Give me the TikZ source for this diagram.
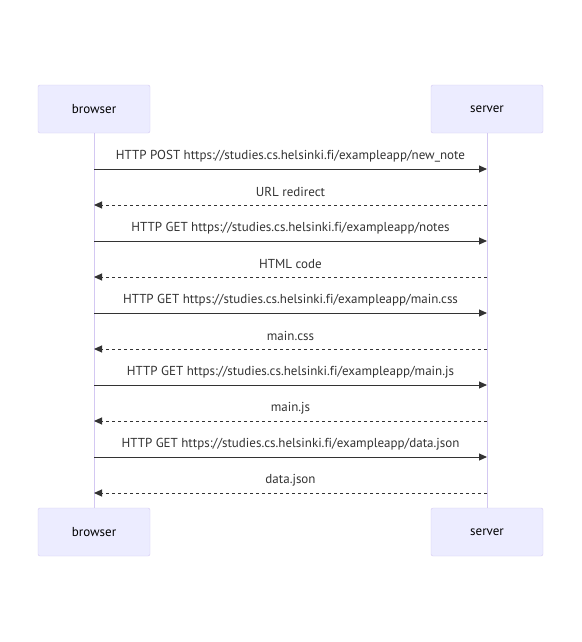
\documentclass[tikz,border=0pt]{standalone}
\usepackage{fontspec}
\setmainfont[Ligatures=NoCommon]{PT Sans}
\usepackage{xcolor}
\usetikzlibrary{arrows.meta,calc}

\definecolor{actorfill}{HTML}{ECECFF}
\definecolor{actorline}{HTML}{D3C8F2}
\definecolor{msgcol}{HTML}{333333}

\begin{document}
\begin{tikzpicture}[
  x=1pt, y=-1pt,
  >={Triangle[length=8pt,width=7pt]},
  line cap=butt,
  actor/.style={draw=actorline, fill=actorfill, rounded corners=2pt,
    minimum width=112pt, minimum height=48pt, font=\fontsize{13}{15}\selectfont},
  lifeline/.style={draw=actorline, line width=0.8pt},
  call/.style={->, draw=msgcol, line width=1pt},
  reply/.style={->, draw=msgcol, line width=1pt, dash pattern=on 3pt off 3pt},
  msg/.style={midway, yshift=13pt, text=msgcol, font=\fontsize{13}{15}\selectfont}
]
  \useasboundingbox (0,0) rectangle (581,642);

  \node[actor] (browser) at (94,109) {browser};
  \node[actor] (server)  at (487,109) {server};
  \node[actor] (browserEnd) at (94,532) {browser};
  \node[actor] (serverEnd)  at (487,532) {server};

  % lifelines
  \draw[lifeline] (browser.south) -- (browserEnd.north);
  \draw[lifeline] (server.south) -- (serverEnd.north);

  \foreach \i in {1,...,10}{
    \coordinate (b\i) at (94, 133+36*\i);
    \coordinate (s\i) at (487, 133+36*\i);
  }

  % requests and responses
  \draw[call]  (b1) -- (s1) node[msg] {HTTP POST https://studies.cs.helsinki.fi/exampleapp/new\_note};
  \draw[reply] (s2) -- (b2) node[msg] {URL redirect};
  \draw[call]  (b3) -- (s3) node[msg] {HTTP GET https://studies.cs.helsinki.fi/exampleapp/notes};
  \draw[reply] (s4) -- (b4) node[msg] {HTML code};
  \draw[call]  (b5) -- (s5) node[msg] {HTTP GET https://studies.cs.helsinki.fi/exampleapp/main.css};
  \draw[reply] (s6) -- (b6) node[msg] {main.css};
  \draw[call]  (b7) -- (s7) node[msg] {HTTP GET https://studies.cs.helsinki.fi/exampleapp/main.js};
  \draw[reply] (s8) -- (b8) node[msg] {main.js};
  \draw[call]  (b9) -- (s9) node[msg] {HTTP GET https://studies.cs.helsinki.fi/exampleapp/data.json};
  \draw[reply] (s10) -- (b10) node[msg] {data.json};
\end{tikzpicture}
\end{document}
